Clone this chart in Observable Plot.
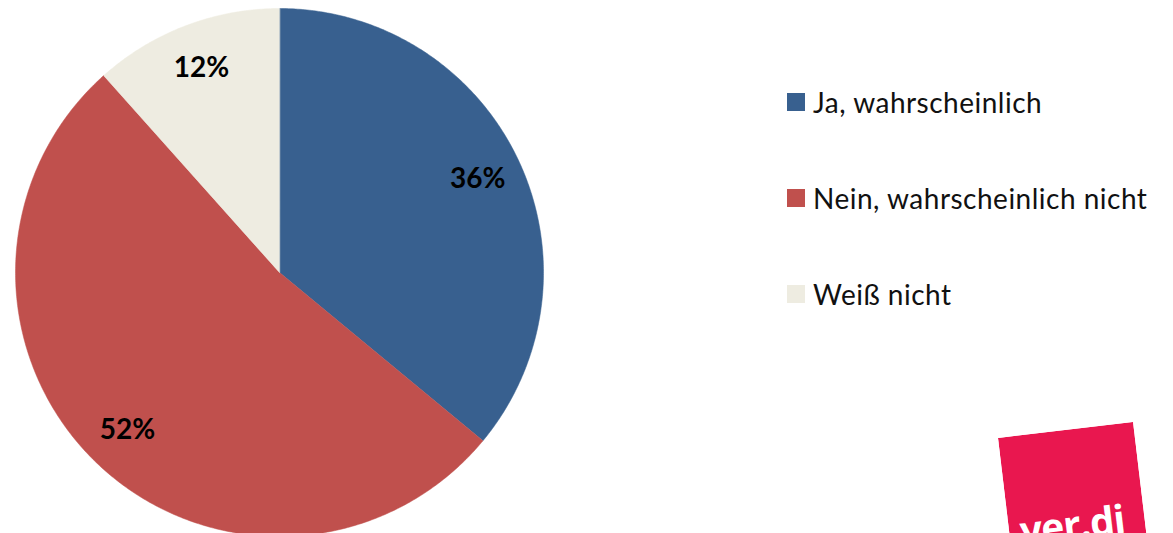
<!DOCTYPE html>
<html>
<head>
<meta charset="utf-8">
<script src="https://cdn.jsdelivr.net/npm/d3@7"></script>
<script src="https://cdn.jsdelivr.net/npm/@observablehq/plot@0.6"></script>
<style>
  html, body { margin: 0; padding: 0; background: #fff; overflow: hidden; }
  #wrap { position: relative; width: 1173px; height: 533px; overflow: hidden; font-family: Lato, "Open Sans", sans-serif; }
  #legend { position: absolute; left: 787px; top: 0; }
  .item { position: absolute; left: 0; white-space: nowrap; display: flex; align-items: center; font-size: 28px; letter-spacing: 0.5px; color: #111; }
  .sw { width: 18px; height: 18px; margin-right: 8px; flex: none; }
  #logo { position: absolute; left: 998px; top: 438px; transform: rotate(-6.8deg); transform-origin: 0 0; }
</style>
</head>
<body>
<div id="wrap">
  <div id="chart"></div>
  <div id="legend"></div>
  <svg id="logo" width="136" height="170" viewBox="0 0 136 170">
    <rect x="0" y="0" width="136" height="170" fill="#e9174f"></rect>
    <text x="11" y="109" fill="#fff" font-family="'Open Sans', sans-serif" font-weight="bold" font-size="39" letter-spacing="-1">ver.di</text>
  </svg>
</div>
<script>
const categories = ["Ja, wahrscheinlich", "Nein, wahrscheinlich nicht", "Weiß nicht"];
const values = [36, 52.4, 11.6];
const valueLabels = ["36%", "52%", "12%"];
const colors = ["#38608f", "#c0504d", "#eeece1"];

// layout (pixels)
const W = 1173, H = 533, cx = 279, cy = 272, R = 264;
const labelRadius = 0.83;

const arcs = d3.pie().sort(null).value(d => d)(values);

// slice outlines on the unit circle (angle 0 at 12 o'clock, clockwise)
const slicePts = [];
arcs.forEach((a, i) => {
  slicePts.push({cat: categories[i], x: 0, y: 0});
  const n = Math.max(2, Math.ceil((a.endAngle - a.startAngle) / (Math.PI / 360)));
  for (let k = 0; k <= n; k++) {
    const t = a.startAngle + (a.endAngle - a.startAngle) * k / n;
    slicePts.push({cat: categories[i], x: Math.sin(t), y: Math.cos(t)});
  }
});

const labelPts = arcs.map((a, i) => {
  const m = (a.startAngle + a.endAngle) / 2;
  return {text: valueLabels[i], x: labelRadius * Math.sin(m), y: labelRadius * Math.cos(m)};
});

const chart = Plot.plot({
  width: W, height: H,
  margin: 0,
  style: {background: "transparent", overflow: "hidden"},
  x: {domain: [-cx / R, (W - cx) / R], axis: null},
  y: {domain: [(cy - H) / R, cy / R], axis: null},
  color: {domain: categories, range: colors},
  marks: [
    Plot.line(slicePts, {x: "x", y: "y", z: "cat", fill: "cat", stroke: "cat", strokeWidth: 0.5, curve: "linear-closed"}),
    Plot.text(labelPts, {x: "x", y: "y", text: "text", fontSize: 28, fontWeight: "bold", fill: "#000", fontFamily: "Lato, 'Open Sans', sans-serif"})
  ]
});
document.getElementById("chart").appendChild(chart);

const legend = document.getElementById("legend");
const legendCenters = [102, 198, 294];
categories.forEach((c, i) => {
  const it = document.createElement("div");
  it.className = "item";
  it.style.top = (legendCenters[i] - 18) + "px";
  it.style.height = "36px";
  const sw = document.createElement("div");
  sw.className = "sw";
  sw.style.background = colors[i];
  const tx = document.createElement("span");
  tx.textContent = c;
  it.appendChild(sw); it.appendChild(tx);
  legend.appendChild(it);
});
</script>
</body>
</html>
